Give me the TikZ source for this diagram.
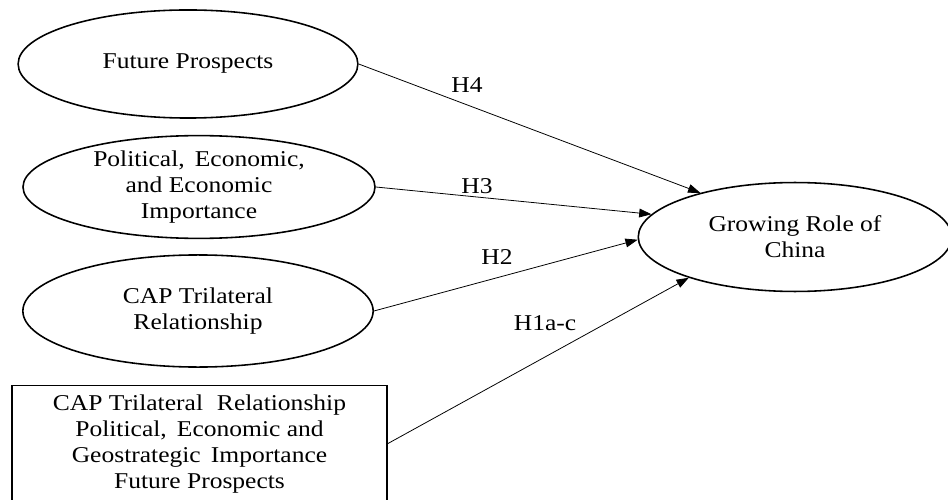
\documentclass[tikz,border=0pt]{standalone}
\usepackage{fontspec}
\setmainfont{Liberation Serif}[FakeStretch=1.13]
\usepackage{tikz}
\usetikzlibrary{shapes.geometric,arrows.meta}

\begin{document}
\begin{tikzpicture}[x=0.571pt,y=-0.571pt,
	font=\fontsize{12.9}{14.9}\selectfont,
	construct/.style={ellipse,draw,line width=0.9pt,inner sep=0pt,align=center},
	path/.style={-{Triangle[length=7pt,width=5pt]},line width=0.45pt},
	hyp/.style={inner sep=0pt}]
	
	\useasboundingbox (0,0) rectangle (948,500);
	
	\node[construct,minimum width=194pt,minimum height=61.7pt] (future) at (188,64) {Future Prospects};
	\node[construct,minimum width=201pt,minimum height=56.5pt] (importance) at (199,187) {Political,\, Economic,\\and Economic\\Importance};
	\node[construct,minimum width=200pt,minimum height=64pt] (cap) at (198,311) {CAP Trilateral\\Relationship};
	\node[construct,minimum width=179pt,minimum height=62.2pt] (china) at (795,237) {Growing Role of\\China};
	\node[draw,line width=0.7pt,anchor=north,minimum width=214pt,inner sep=5pt,align=center] (all) at (199.5,385)
		{CAP Trilateral\, \,Relationship\\Political,\, Economic and\\Geostrategic\, Importance\\Future Prospects};
	
	\draw[path] (future.east) -- (china.155);
	\draw[path] (importance.east) -- (china.171);
	\draw[path] (cap.east) -- (china.181);
	\draw[path] (all.east) -- (china.201);
	
	\node[hyp] (h4) at (467,85) {H4};
	\node[hyp] (h3) at (477,186) {H3};
	\node[hyp] (h2) at (497,257) {H2};
	\node[hyp] (h1) at (545,323) {H1a-c};
	
\end{tikzpicture}
\end{document}
